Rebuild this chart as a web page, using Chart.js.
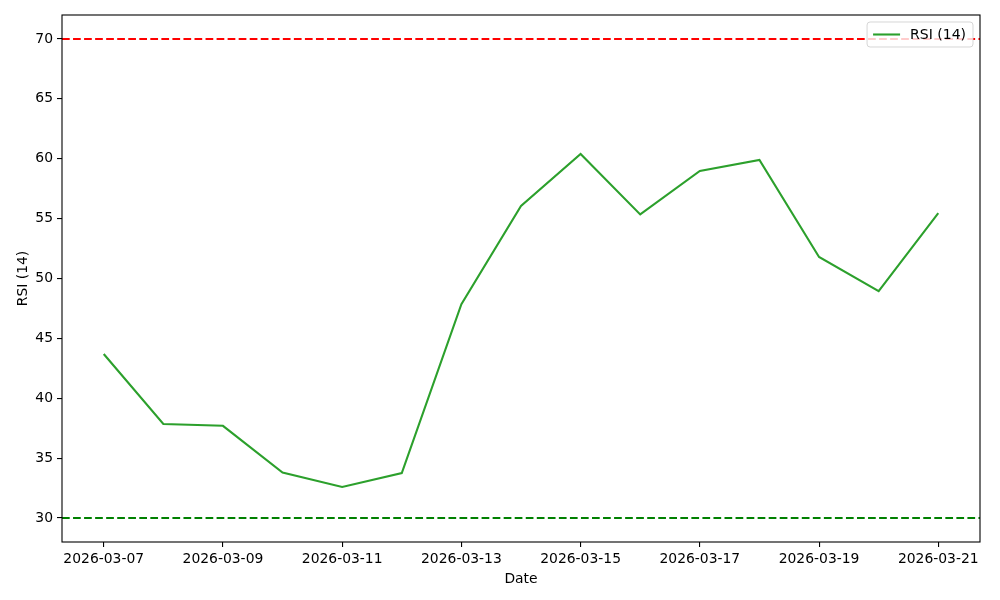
<!DOCTYPE html>
<html>
<head>
<meta charset="utf-8">
<script src="https://cdn.jsdelivr.net/npm/chart.js@4/dist/chart.umd.min.js"></script>
<style>
  html, body { margin: 0; padding: 0; background: #fff; }
  #wrap { width: 1000px; height: 600px; }
</style>
</head>
<body>
<div id="wrap"><canvas id="c" width="1000" height="600"></canvas></div>
<script>
// data
const dates = ['2026-03-07', '2026-03-08', '2026-03-09', '2026-03-10', '2026-03-11',
  '2026-03-12', '2026-03-13', '2026-03-14', '2026-03-15', '2026-03-16',
  '2026-03-17', '2026-03-18', '2026-03-19', '2026-03-20', '2026-03-21'];
const rsi = [43.7, 37.85, 37.7, 33.8, 32.6, 33.75, 47.85, 56.05, 60.4, 55.35,
  58.98, 59.9, 51.8, 48.95, 55.45];
const overbought = 70;
const oversold = 30;
const yTicks = [30, 35, 40, 45, 50, 55, 60, 65, 70];
const xTickEvery = 2;

const FONT = "'DejaVu Sans', sans-serif";
const lw = 1.5 * 100 / 72;
const dash = [3.7 * lw, 1.6 * lw];

// matplotlib style frame, reference lines and legend
const mplPlugin = {
  id: 'mpl',
  beforeDatasetsDraw(chart) {
    const { ctx, chartArea: a, scales: { y } } = chart;
    ctx.save();
    ctx.beginPath();
    ctx.rect(a.left, a.top, a.right - a.left, a.bottom - a.top);
    ctx.clip();
    ctx.lineWidth = lw;
    ctx.setLineDash(dash);
    [[overbought, '#ff0000'], [oversold, '#008000']].forEach(([v, col]) => {
      const py = y.getPixelForValue(v);
      ctx.strokeStyle = col;
      ctx.beginPath();
      ctx.moveTo(a.left, py);
      ctx.lineTo(a.right, py);
      ctx.stroke();
    });
    ctx.restore();
  },
  afterDatasetsDraw(chart) {
    const { ctx, chartArea: a } = chart;
    ctx.save();
    // legend box
    const label = chart.data.datasets[0].label;
    ctx.font = '14px ' + FONT;
    const tw = ctx.measureText(label).width;
    const bw = 50 + tw, bh = 25;
    const bx = a.right - 7 - bw, by = a.top + 7;
    ctx.beginPath();
    ctx.roundRect(bx, by, bw, bh, 3);
    ctx.fillStyle = 'rgba(255,255,255,0.8)';
    ctx.fill();
    ctx.strokeStyle = 'rgba(204,204,204,0.8)';
    ctx.lineWidth = 1;
    ctx.stroke();
    ctx.strokeStyle = chart.data.datasets[0].borderColor;
    ctx.lineWidth = lw;
    ctx.beginPath();
    ctx.moveTo(bx + 6, by + bh / 2);
    ctx.lineTo(bx + 33, by + bh / 2);
    ctx.stroke();
    ctx.fillStyle = '#000';
    ctx.textBaseline = 'middle';
    ctx.fillText(label, bx + 43, by + bh / 2 + 0.5);
    // frame
    ctx.strokeStyle = '#000';
    ctx.lineWidth = 1.1;
    ctx.strokeRect(a.left, a.top, a.right - a.left, a.bottom - a.top);
    ctx.restore();
  }
};

const xTicks = dates.map((d, i) => i).filter(i => i % xTickEvery === 0);

new Chart(document.getElementById('c'), {
  type: 'line',
  data: {
    datasets: [{
      label: 'RSI (14)',
      data: rsi.map((v, i) => ({ x: i, y: v })),
      borderColor: '#2ca02c',
      borderWidth: lw,
      pointRadius: 0,
      tension: 0,
      fill: false
    }]
  },
  options: {
    responsive: false,
    animation: false,
    devicePixelRatio: 1,
    layout: { padding: { top: 15, right: 20, left: 0, bottom: 0 } },
    plugins: { legend: { display: false }, tooltip: { enabled: false } },
    scales: {
      x: {
        type: 'linear',
        min: -0.05 * (dates.length - 1),
        max: (dates.length - 1) * 1.05,
        afterBuildTicks: s => { s.ticks = xTicks.map(v => ({ value: v })); },
        afterFit: s => { s.height = 58; },
        grid: { drawOnChartArea: false, drawTicks: true, tickLength: 5, color: '#000', lineWidth: 1.1 },
        border: { display: false },
        ticks: {
          color: '#000', font: { family: FONT, size: 13.9 }, padding: 4, maxRotation: 0,
          autoSkip: false,
          callback: v => dates[v] || ''
        },
        title: { display: true, text: 'Date', color: '#000', font: { family: FONT, size: 13.9 }, padding: { top: 2, bottom: 12 } }
      },
      y: {
        min: 28,
        max: 72,
        afterBuildTicks: s => { s.ticks = yTicks.map(v => ({ value: v })); },
        afterFit: s => { s.width = 62; },
        grid: { drawOnChartArea: false, drawTicks: true, tickLength: 5, color: '#000', lineWidth: 1.1 },
        border: { display: false },
        ticks: { color: '#000', font: { family: FONT, size: 13.9 }, padding: 4 },
        title: { display: true, text: 'RSI (14)', color: '#000', font: { family: FONT, size: 13.9 }, padding: { top: 15, bottom: 4 } }
      }
    }
  },
  plugins: [mplPlugin]
});
</script>
</body>
</html>
